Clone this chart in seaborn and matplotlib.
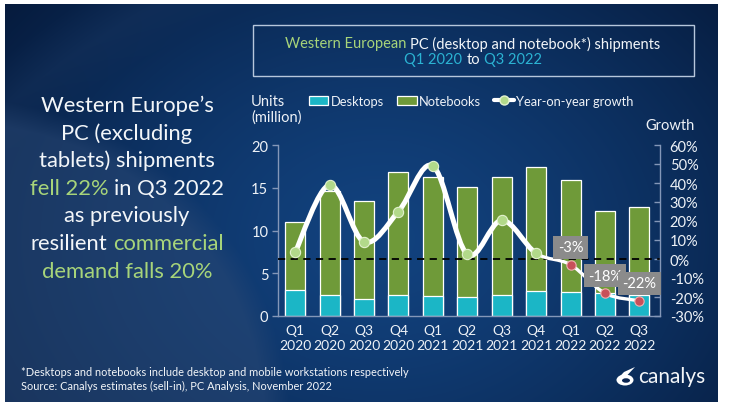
import numpy as np
import pandas as pd
import matplotlib
matplotlib.use("Agg")
import matplotlib.pyplot as plt
import seaborn as sns
from matplotlib.path import Path
from matplotlib.patches import PathPatch, Rectangle, Patch, Ellipse, Polygon
from matplotlib.lines import Line2D
import matplotlib.colors as mcolors

# ---------------- data ----------------
quarters = ["Q1\n2020", "Q2\n2020", "Q3\n2020", "Q4\n2020",
            "Q1\n2021", "Q2\n2021", "Q3\n2021", "Q4\n2021",
            "Q1\n2022", "Q2\n2022", "Q3\n2022"]
desktops = [3.0, 2.5, 1.95, 2.5, 2.3, 2.25, 2.5, 2.95, 2.85, 2.65, 2.5]
notebooks = [8.0, 12.1, 11.55, 14.3, 14.0, 12.8, 13.8, 14.45, 13.05, 9.65, 10.3]
growth = [3.6, 39.0, 9.0, 25.0, 49.0, 2.4, 20.4, 3.0, -3.0, -18.0, -22.0]
labelled = ["", "", "", "", "", "", "", "", "-3%", "-18%", "-22%"]
growth_ticks = [-30, -20, -10, 0, 10, 20, 30, 40, 50, 60]
units_ticks = [0, 5, 10, 15, 20]

df = pd.DataFrame({"quarter": quarters, "desktops": desktops,
                   "notebooks": notebooks, "growth": growth})
df["total"] = df["desktops"] + df["notebooks"]
df["pos"] = np.arange(len(df))

# ---------------- style ----------------
sns.set_style("white")
FONT = ["Lato", "DejaVu Sans"]
plt.rcParams["font.family"] = FONT

W, H = 729, 410
fig = plt.figure(figsize=(W / 100, H / 100), dpi=100)
fig.patch.set_facecolor("white")

def fx(x):
    return x / W

def fy(y):
    return 1 - y / H

# ---------------- background ----------------
x0, y0, x1, y1 = 5, 5, 718, 403
bg = fig.add_axes([fx(x0), fy(y1), fx(x1 - x0), (y1 - y0) / H])
bg.set_zorder(-5)
xx, yy = np.meshgrid(np.arange(x0, x1) + 0.5, np.arange(y0, y1) + 0.5)
c_center = np.array(mcolors.to_rgb("#12427e"))
c_edge = np.array(mcolors.to_rgb("#051838"))
d = np.sqrt(((xx - 380) / 1.15) ** 2 + ((yy - 240) / 0.9) ** 2)
t = np.clip(d / 440, 0, 1) ** 1.4
img = c_center[None, None, :] * (1 - t[..., None]) + c_edge[None, None, :] * t[..., None]
# lighter arc region on the left
light = np.array(mcolors.to_rgb("#2c4a76"))
r = np.sqrt((xx + 40) ** 2 + (yy - 430) ** 2)
m = np.clip((330 - r) / 25, 0, 1) * 0.5
img = img * (1 - m[..., None]) + light[None, None, :] * m[..., None]
# faint swoosh band at the top-left
r2 = np.sqrt((xx - 520) ** 2 + (yy - 720) ** 2)
band = np.clip(1 - np.abs(r2 - 800) / 40, 0, 1) * 0.18
band[xx > 330] = 0
img = img * (1 - band[..., None]) + light[None, None, :] * band[..., None]
bg.imshow(img, aspect="auto", extent=(x0, x1, y1, y0), interpolation="bilinear")
bg.set_axis_off()

# ---------------- main chart ----------------
ax = fig.add_axes([fx(278), fy(317), fx(660 - 278), (317 - 146) / H])
ax.set_facecolor("none")
GREEN = "#6f9a39"
CYAN = "#1bb6c6"
AXC = "#8497b8"
TXT = "#eef2f7"

sns.barplot(data=df, x="quarter", y="total", ax=ax, color=GREEN, width=0.58,
            edgecolor="white", linewidth=0.9, saturation=1)
sns.barplot(data=df, x="quarter", y="desktops", ax=ax, color=CYAN, width=0.58,
            edgecolor="white", linewidth=0.9, saturation=1)
ax.set_xlim(-0.5, 10.6)
ax.set_ylim(0, 20)
ax.set_yticks(units_ticks)
ax.set_xlabel("")
ax.set_ylabel("")
for s in ["top", "right"]:
    ax.spines[s].set_visible(False)
for s in ["left", "bottom"]:
    ax.spines[s].set_color(AXC)
    ax.spines[s].set_linewidth(1.0)
ax.tick_params(axis="x", length=0, pad=6, labelsize=10, labelcolor=TXT)
ax.tick_params(axis="y", direction="out", length=4, width=1, color=AXC,
               pad=3, labelsize=10.5, labelcolor=TXT)
for lab in ax.get_xticklabels():
    lab.set_linespacing(1.3)

# ---------------- growth line ----------------
ax2 = ax.twinx()
ax2.set_ylim(-30, 60)
ax2.set_yticks(growth_ticks)
ax2.set_yticklabels([f"{v}%" for v in growth_ticks])
ax2.tick_params(axis="y", direction="in", length=4, width=1, color=AXC,
                pad=7, labelsize=10.5, labelcolor=TXT)
for s in ["top", "left", "bottom"]:
    ax2.spines[s].set_visible(False)
ax2.spines["right"].set_color(AXC)
ax2.spines["right"].set_linewidth(1.0)
ax2.set_ylabel("")

ax2.axhline(0, color="black", lw=1.3, ls=(0, (4, 3)), zorder=2)

pts = np.column_stack([df["pos"].values, df["growth"].values]).astype(float)
n = len(pts)

def smooth_path(i_start, i_end):
    verts = [pts[i_start]]
    codes = [Path.MOVETO]
    for i in range(i_start, i_end):
        p0 = pts[max(i - 1, 0)]
        p1 = pts[i]
        p2 = pts[i + 1]
        p3 = pts[min(i + 2, n - 1)]
        c1 = p1 + (p2 - p0) / 6.0
        c2 = p2 - (p3 - p1) / 6.0
        verts += [c1, c2, p2]
        codes += [Path.CURVE4] * 3
    return Path(verts, codes)

ax2.add_patch(PathPatch(smooth_path(0, 7), facecolor="none", edgecolor="white",
                        lw=3.6, capstyle="round", joinstyle="round", zorder=3))
ax2.add_patch(PathPatch(smooth_path(7, n - 1), facecolor="none", edgecolor="white",
                        lw=2.4, capstyle="round", joinstyle="round", zorder=3))

first = df.iloc[:8]
last = df.iloc[8:]
sns.scatterplot(data=first, x="pos", y="growth", ax=ax2, s=55, color="#b2d98a",
                edgecolor="#e3f2cf", linewidth=0.8, zorder=4, legend=False)
sns.scatterplot(data=last, x="pos", y="growth", ax=ax2, s=45, color="#c9505a",
                edgecolor="#efb0b0", linewidth=0.8, zorder=4, legend=False)
ax2.set_xlim(-0.5, 10.6)
ax2.set_xlabel("")
ax2.set_ylabel("")

for p, g, lab in zip(df["pos"], df["growth"], labelled):
    if lab:
        ax2.annotate(lab, (p, g), xytext=(0, 12.5), textcoords="offset points",
                     ha="center", va="center", fontsize=10.5, color="white", zorder=6,
                     bbox=dict(boxstyle="square,pad=0.3", fc="#8b8b8b", ec="none"))

# ---------------- legend ----------------
handles = [Patch(facecolor=CYAN, edgecolor="white", linewidth=0.9),
           Patch(facecolor=GREEN, edgecolor="white", linewidth=0.9),
           Line2D([], [], color="white", lw=3, marker="o", markersize=6.5,
                  markerfacecolor="#b2d98a", markeredgecolor="#e3f2cf")]
leg = fig.legend(handles, ["Desktops", "Notebooks", "Year-on-year growth"],
                 loc="center left", bbox_to_anchor=(fx(309), fy(102)),
                 ncol=3, frameon=False, fontsize=9.3, labelcolor=TXT,
                 handlelength=1.5, handleheight=0.8, handletextpad=0.2,
                 columnspacing=1.0, borderaxespad=0, borderpad=0)

fig.text(fx(251), fy(110), "Units\n(million)", ha="left", va="center",
         fontsize=10.5, color=TXT, linespacing=1.15)
fig.text(fx(670), fy(126), "Growth", ha="center", va="center",
         fontsize=10.5, color=TXT)

# ---------------- rich text helper ----------------
fig.canvas.draw()
renderer = fig.canvas.get_renderer()

def text_width(s, size):
    tt = fig.text(0, 0, s, fontsize=size, family=FONT)
    w = tt.get_window_extent(renderer).width
    tt.remove()
    return w

def rich_line(pieces, cx, cy, size):
    sp = text_width("x x", size) - text_width("xx", size)
    widths = [text_width(s, size) for s, _ in pieces]
    total = sum(widths) + sp * (len(pieces) - 1)
    x = cx - total / 2
    for (s, c), w in zip(pieces, widths):
        fig.text(fx(x), fy(cy), s, color=c, fontsize=size, ha="left",
                 va="center", family=FONT)
        x += w + sp

LG = "#a7d47a"
WH = "#f3f6f9"
LB = "#2bb3d3"

# title box
fig.add_artist(Rectangle((fx(253), fy(77)), fx(694 - 253), (77 - 26) / H,
                         transform=fig.transFigure, fill=False,
                         edgecolor="#b7c7dc", linewidth=1.0))
rich_line([("Western European", LG), ("PC (desktop and notebook*) shipments", WH)],
          473, 44, 10.5)
rich_line([("Q1 2020", LB), ("to", WH), ("Q3 2022", LB)], 473, 60, 10.5)

# left headline
left_lines = [
    [("Western Europe\u2019s", WH)],
    [("PC (excluding", WH)],
    [("tablets) shipments", WH)],
    [("fell 22%", LG), ("in Q3 2022", WH)],
    [("as previously", WH)],
    [("resilient", WH), ("commercial", LG)],
    [("demand falls 20%", LG)],
]
ys = [106, 133.5, 161, 189, 216.5, 244.5, 272.5]
for pieces, yv in zip(left_lines, ys):
    rich_line(pieces, 127, yv, 15.8)

# footnotes
fig.text(fx(21), fy(373), "*Desktops and notebooks include desktop and mobile workstations respectively",
         fontsize=7.9, color=WH, ha="left", va="center")
fig.text(fx(21), fy(386), "Source: Canalys estimates (sell-in), PC Analysis, November 2022",
         fontsize=7.9, color=WH, ha="left", va="center")

# canalys logo
fig.add_artist(Ellipse((fx(625), fy(381)), fx(17), 11 / H, transform=fig.transFigure,
                       facecolor="white", edgecolor="none"))
fig.add_artist(Polygon([(fx(616.5), fy(381)), (fx(624), fy(373)), (fx(635), fy(368)),
                        (fx(627), fy(376.5))], closed=True, transform=fig.transFigure,
                       facecolor="white", edgecolor="none"))
fig.add_artist(Ellipse((fx(626), fy(381.5)), fx(8), 4.5 / H, transform=fig.transFigure,
                       facecolor="#0a2450", edgecolor="none"))
fig.text(fx(638), fy(377), "canalys", fontsize=15, color=WH, ha="left", va="center")

fig.savefig("out.png", dpi=100, facecolor="white")
